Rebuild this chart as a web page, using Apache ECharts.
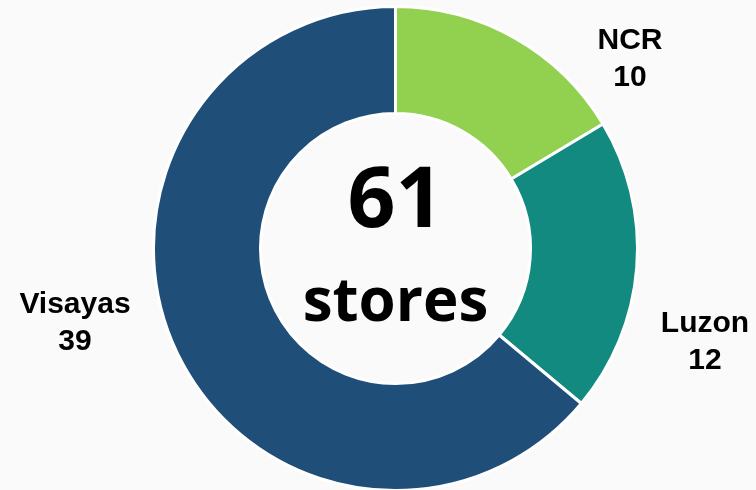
<!DOCTYPE html>
<html><head><meta charset="utf-8">
<script src="https://cdn.jsdelivr.net/npm/echarts@6/dist/echarts.min.js"></script>
<style>html,body{margin:0;padding:0;background:#fafafa;}#c{width:756px;height:490px;}</style>
</head><body><div id="c"></div>
<script>
const categories = ['NCR', 'Luzon', 'Visayas'];
const values = [10, 12, 39];
const colors = ['#92d050', '#138a80', '#1f4e79'];
const unitLabel = 'stores';
// label anchor positions (layout, not data)
const labelPos = [[630, 59], [705, 342], [75, 323]];

const total = values.reduce((a, b) => a + b, 0);
const chart = echarts.init(document.getElementById('c'));
chart.setOption({
  backgroundColor: '#fafafa',
  animation: false,
  series: [{
    type: 'pie',
    center: [395.5, 248.5],
    radius: [135, 242],
    startAngle: 90,
    clockwise: true,
    data: categories.map((c, i) => ({ name: c, value: values[i], itemStyle: { color: colors[i] } })),
    itemStyle: { borderColor: '#ffffff', borderWidth: 3 },
    label: {
      show: true,
      position: 'inner',
      formatter: '{b}\n{c}',
      fontFamily: 'Liberation Sans, Arial, sans-serif',
      fontWeight: 'bold',
      fontSize: 30,
      lineHeight: 37,
      color: '#000',
      align: 'center',
      overflow: 'none'
    },
    labelLine: { show: false },
    labelLayout: function (p) {
      const pos = labelPos[p.dataIndex];
      return { x: pos[0], y: pos[1], align: 'center', verticalAlign: 'middle' };
    }
  }],
  graphic: [
    { type: 'text', x: 395.5, y: 203, style: { text: String(total), fontFamily: 'Open Sans', fontWeight: 'bold', fontSize: 84, fill: '#000', align: 'center', verticalAlign: 'middle' } },
    { type: 'text', x: 395.5, y: 304, style: { text: unitLabel, fontFamily: 'Open Sans', fontWeight: 'bold', fontSize: 60, fill: '#000', align: 'center', verticalAlign: 'middle' } }
  ]
});
</script></body></html>
